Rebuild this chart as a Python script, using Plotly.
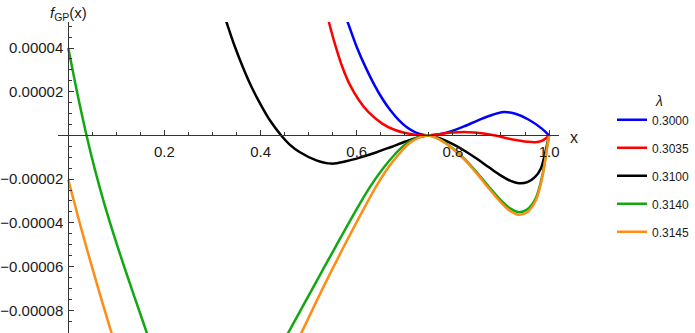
import plotly.graph_objects as go

# ---- data ----
lambdas = ["0.3000", "0.3035", "0.3100", "0.3140", "0.3145"]
colors = ["#0000FF", "#FF0000", "#000000", "#12A812", "#FF8C14"]

x_300 = [0.565, 0.581, 0.60, 0.619, 0.636, 0.653, 0.67, 0.688, 0.705, 0.722, 0.74, 0.75,
         0.775, 0.80, 0.825, 0.85, 0.875, 0.906, 0.93, 0.957, 0.985, 1.0]
y_300 = [6.1e-5, 5.19e-5, 4.05e-5, 3.09e-5, 2.34e-5, 1.69e-5, 1.15e-5, 6.9e-6, 3.6e-6, 1.4e-6, 1.8e-7, 0.0,
         0.7e-6, 2.2e-6, 4.3e-6, 6.7e-6, 8.9e-6, 1.07e-5, 9.9e-6, 7.3e-6, 3.1e-6, 0.0]

x_3035 = [0.53, 0.542, 0.555, 0.57, 0.585, 0.605, 0.625, 0.653, 0.677, 0.701, 0.725, 0.75,
          0.775, 0.80, 0.83, 0.86, 0.888, 0.91, 0.937, 0.955, 0.971, 0.985, 0.995, 1.0]
y_3035 = [6.25e-5, 5.19e-5, 4.15e-5, 3.13e-5, 2.35e-5, 1.6e-5, 1.05e-5, 5.4e-6, 2.7e-6, 1.1e-6, 2.5e-7, 0.0,
          0.7e-6, 1.3e-6, 1.5e-6, 1.0e-6, 0.0, -1.2e-6, -2.3e-6, -2.9e-6, -3.1e-6, -2.5e-6, -1.1e-6, 0.0]

x_310 = [0.32, 0.329, 0.346, 0.363, 0.38, 0.398, 0.42, 0.443, 0.46, 0.481, 0.516, 0.547, 0.58, 0.61,
         0.64, 0.67, 0.70, 0.725, 0.75, 0.775, 0.80, 0.825, 0.85, 0.875, 0.90, 0.92, 0.937, 0.955,
         0.971, 0.983, 0.99, 1.0]
y_310 = [5.79e-5, 5.19e-5, 4.09e-5, 3.13e-5, 2.27e-5, 1.5e-5, 6.7e-6, 0.0, -4.06e-6, -7.6e-6, -1.14e-5, -1.29e-5, -1.17e-5, -9.9e-6,
         -7.8e-6, -5.4e-6, -2.9e-6, -1.0e-6, 0.0, -1.5e-6, -4.0e-6, -7.1e-6, -1.07e-5, -1.46e-5, -1.84e-5, -2.08e-5, -2.19e-5, -2.14e-5,
         -1.9e-5, -1.51e-5, -9.8e-6, 0.0]

x_314 = [0.0, 0.019, 0.038, 0.055, 0.075, 0.097, 0.12, 0.143, 0.166, 0.18, None,
         0.44, 0.46, 0.508, 0.557, 0.605, 0.63, 0.655, 0.68, 0.70, 0.725, 0.75,
         0.775, 0.80, 0.825, 0.85, 0.875, 0.90, 0.92, 0.937, 0.955, 0.972, 0.986, 0.9965, 1.0]
y_314 = [4.0e-5, 1.91e-5, 0.0, -1.53e-5, -3.13e-5, -4.71e-5, -6.25e-5, -7.73e-5, -9.2e-5, -1.01e-4, None,
         -9.73e-5, -8.93e-5, -7.01e-5, -5.05e-5, -3.175e-5, -2.275e-5, -1.5e-5, -8.5e-6, -4.3e-6, -1.15e-6, 0.0,
         -2.15e-6, -5.97e-6, -1.1e-5, -1.7e-5, -2.35e-5, -2.97e-5, -3.35e-5, -3.51e-5, -3.38e-5, -2.89e-5, -1.83e-5, -4.6e-6, 0.0]

x_3145 = [0.0, 0.02, 0.04, 0.065, 0.088, 0.1, None,
          0.4685, 0.487, 0.529, 0.574, 0.619, 0.642, 0.6645, 0.688, 0.706, 0.728, 0.75,
          0.775, 0.80, 0.825, 0.85, 0.875, 0.90, 0.92, 0.937, 0.955, 0.972, 0.986, 0.9965, 1.0]
y_3145 = [-2.03e-5, -3.7e-5, -5.3e-5, -7.2e-5, -8.9e-5, -9.75e-5, None,
          -9.73e-5, -8.93e-5, -7.01e-5, -5.05e-5, -3.175e-5, -2.275e-5, -1.5e-5, -8.5e-6, -4.3e-6, -1.15e-6, 0.0,
          -2.2e-6, -6.2e-6, -1.13e-5, -1.75e-5, -2.43e-5, -3.07e-5, -3.47e-5, -3.63e-5, -3.5e-5, -2.99e-5, -1.9e-5, -4.8e-6, 0.0]

series_x = [x_300, x_3035, x_310, x_314, x_3145]
series_y = [y_300, y_3035, y_310, y_314, y_3145]

x_tickvals = [0.2, 0.4, 0.6, 0.8, 1.0]
x_ticktext = ["0.2", "0.4", "0.6", "0.8", "1.0"]
y_tickvals = [-8e-5, -6e-5, -4e-5, -2e-5, 2e-5, 4e-5]
y_ticktext = ["\u22120.00008", "\u22120.00006", "\u22120.00004", "\u22120.00002", "0.00002", "0.00004"]

x_range = [-0.0214, 1.0207]
y_range = [-9.04e-5, 5.19e-5]

x_minor = [round(0.05 * i, 2) for i in range(1, 21) if i % 4 != 0]
y_minor = [round(5e-6 * i, 12) for i in range(-18, 11) if i % 4 != 0]

font_family = "Liberation Sans, Arial, sans-serif"

fig = go.Figure()
for i in range(len(lambdas)):
    fig.add_trace(go.Scatter(
        x=series_x[i], y=series_y[i], mode="lines", name=lambdas[i],
        legendgroup=lambdas[i],
        line=dict(color=colors[i], width=2.5, shape="spline", smoothing=1.0),
        connectgaps=False, hoverinfo="skip"))

x0_pos = (0 - y_range[0]) / (y_range[1] - y_range[0])
y0_pos = (0 - x_range[0]) / (x_range[1] - x_range[0])

fig.update_layout(
    width=695, height=333,
    margin=dict(l=58, r=135, t=22, b=0),
    plot_bgcolor="white", paper_bgcolor="white",
    font=dict(family=font_family, size=15, color="#1a1a1a"),
    xaxis=dict(range=x_range, anchor="free", position=x0_pos, showgrid=False, zeroline=False,
               showline=True, linecolor="#333333", linewidth=1,
               ticks="inside", ticklen=5, tickcolor="#333333",
               tickvals=x_tickvals, ticktext=x_ticktext, ticklabelstandoff=3,
               minor=dict(tickvals=x_minor, ticks="inside", ticklen=3, tickcolor="#333333", showgrid=False)),
    yaxis=dict(range=y_range, anchor="free", position=y0_pos, showgrid=False, zeroline=False,
               showline=True, linecolor="#333333", linewidth=1,
               ticks="inside", ticklen=5, tickcolor="#333333",
               tickvals=y_tickvals, ticktext=y_ticktext, ticklabelstandoff=2,
               minor=dict(tickvals=y_minor, ticks="inside", ticklen=3, tickcolor="#333333", showgrid=False)),
    showlegend=True,
    legend=dict(x=1.105, y=0.732, xanchor="left", yanchor="top",
                font=dict(size=12, color="#1a1a1a"), tracegroupgap=9,
                bgcolor="rgba(0,0,0,0)"),
    annotations=[
        dict(text="<i>f</i><sub>GP</sub>(x)", xref="x", x=0, yref="paper", y=1,
             xanchor="center", yanchor="bottom", yshift=-3, showarrow=False,
             font=dict(size=15, color="#1a1a1a")),
        dict(text="x", xref="paper", x=1, yref="y", y=0, xanchor="center", yanchor="middle",
             xshift=15, yshift=-2, showarrow=False, font=dict(size=16, color="#1a1a1a")),
        dict(text="<i>λ</i>", xref="paper", x=1.2, yref="paper", y=0.745,
             xanchor="center", yanchor="middle", showarrow=False,
             font=dict(size=14, color="#1a1a1a")),
    ],
)

fig.write_html("out.html")
